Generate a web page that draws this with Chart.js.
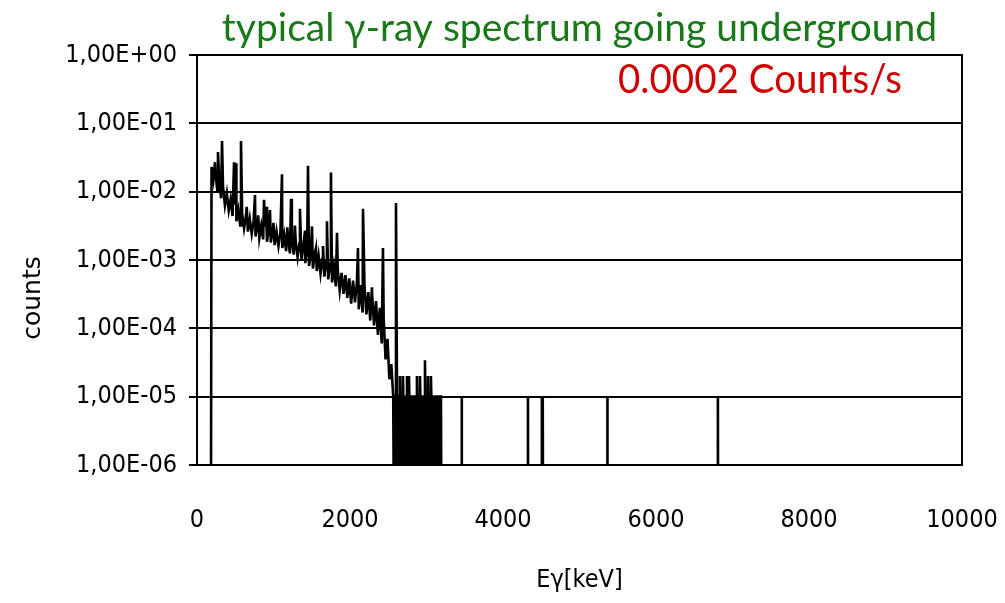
<!DOCTYPE html>
<html>
<head>
<meta charset="utf-8">
<script src="https://cdn.jsdelivr.net/npm/chart.js@4.4.0/dist/chart.umd.min.js"></script>
<style>
  html, body { margin: 0; padding: 0; background: #fff; }
  #wrap { width: 1005px; height: 603px; }
</style>
</head>
<body>
<div id="wrap"><canvas id="spectrum"></canvas></div>
<script>
// continuum (keV, counts)
const contEnergy = [182, 190, 215, 240, 265, 290, 315, 340, 365, 390, 415, 440, 465, 490, 515, 540, 565, 590, 615, 640, 665,
  690, 715, 740, 765, 790, 815, 840, 865, 890, 915, 940, 965, 990, 1015, 1040, 1065, 1090, 1115, 1140, 1165,
  1190, 1215, 1240, 1265, 1290, 1315, 1340, 1365, 1390, 1415, 1440, 1465, 1490, 1515, 1540, 1565, 1590, 1615,
  1640, 1665, 1690, 1715, 1740, 1765, 1790, 1815, 1840, 1865, 1890, 1915, 1940, 1965, 1990, 2015, 2040, 2065,
  2090, 2115, 2140, 2165, 2190, 2215, 2240, 2265, 2290, 2315, 2340, 2365, 2390, 2415, 2440, 2465, 2490, 2515,
  2540, 2565, 2575, 2590];
const contCounts = [0, 2.3e-2, 1.5e-2, 2.0e-2, 1.05e-2, 1.5e-2, 8e-3, 1.2e-2, 6.3e-3, 9.5e-3, 5.3e-3, 7.8e-3, 4.4e-3,
  6.5e-3, 3.7e-3, 5.4e-3, 3.2e-3, 4.8e-3, 2.9e-3, 4.4e-3, 2.6e-3, 4.0e-3, 2.4e-3, 3.7e-3, 2.2e-3, 3.4e-3, 2.1e-3,
  3.2e-3, 2.0e-3, 3.1e-3, 1.85e-3, 2.9e-3, 1.8e-3, 2.75e-3, 1.65e-3, 2.6e-3, 1.6e-3, 2.5e-3, 1.5e-3, 2.3e-3, 1.35e-3,
  2.1e-3, 1.25e-3, 2.0e-3, 1.2e-3, 1.9e-3, 1.1e-3, 1.75e-3, 1.0e-3, 1.6e-3, 9e-4, 1.45e-3, 8.2e-4, 1.35e-3, 7.5e-4,
  1.25e-3, 6.9e-4, 1.15e-3, 6.3e-4, 1.05e-3, 5.7e-4, 9.5e-4, 5.2e-4, 8.8e-4, 4.7e-4, 8e-4, 4.1e-4, 7.2e-4, 3.6e-4,
  6.5e-4, 3.2e-4, 6.0e-4, 2.8e-4, 5.4e-4, 2.3e-4, 5.0e-4, 2.4e-4, 4.6e-4, 1.9e-4, 4.3e-4, 1.7e-4, 4.0e-4, 1.6e-4,
  3.4e-4, 1.3e-4, 3.0e-4, 1.1e-4, 2.5e-4, 8e-5, 2.0e-4, 6e-5, 1.4e-4, 3.5e-5, 7e-5, 1.8e-5, 3e-5, 1e-5,
  0, 1e-5];

// gamma lines
const peakEnergy = [235, 274, 327, 484, 510, 575, 650, 758, 800, 876, 902, 954, 1000, 1111, 1180, 1229, 1280, 1346,
  1412, 1451, 1503, 1555, 1647, 1699, 1751, 1830, 2104, 2170, 2287, 2431, 2601];
const peakCounts = [2.7e-2, 3.8e-2, 5.5e-2, 2.7e-2, 2.6e-2, 5.5e-2, 6e-3, 8.9e-3, 4.5e-3, 7.6e-3, 6.0e-3, 5.4e-3,
  3.5e-3, 1.8e-2, 3.0e-3, 7.9e-3, 3.2e-3, 5.6e-3, 2.7e-3, 2.4e-2, 3.1e-3, 1.5e-3, 1.6e-3, 3.7e-3, 1.9e-2, 2.5e-3,
  1.5e-3, 5.6e-3, 4.0e-4, 1.5e-3, 6.8e-3];

// above 2.6 MeV: single/double counts
const tailEnergy = [2615, 2648, 2653, 2658, 2687, 2692, 2697, 2740, 2745, 2750, 2766, 2771, 2776, 2870, 2875, 2880,
  2910, 2915, 2920, 2975, 2980, 2985, 3014, 3019, 3024, 3053, 3058, 3063, 3189, 3195];
const tailCounts = [1e-5, 1e-5, 2e-5, 1e-5, 1e-5, 2e-5, 1e-5, 1e-5, 2e-5, 1e-5, 1e-5, 2e-5, 1e-5, 1e-5, 2e-5, 1e-5,
  1e-5, 2e-5, 1e-5, 1e-5, 3.4e-5, 1e-5, 1e-5, 2e-5, 1e-5, 1e-5, 2e-5, 1e-5, 1e-5, 0];
const denseRange = [2595, 3189];
const denseLevel = 1e-5;
const singleEnergy = [3460, 4326, 4508, 4521, 5364, 6809];
const singleCount = 1e-5;

const yTickValues = [1e-6, 1e-5, 1e-4, 1e-3, 1e-2, 1e-1, 1];
const yTickLabels = ['1,00E-06', '1,00E-05', '1,00E-04', '1,00E-03', '1,00E-02', '1,00E-01', '1,00E+00'];
const xTicks = [0, 2000, 4000, 6000, 8000, 10000];

const FLOOR = 1e-7; // empty channels, below the axis

let pts = [];
contEnergy.forEach((e, i) => pts.push({ x: e, y: contCounts[i] }));
peakEnergy.forEach((e, i) => pts.push({ x: e, y: peakCounts[i] }));
tailEnergy.forEach((e, i) => pts.push({ x: e, y: tailCounts[i] }));
singleEnergy.forEach(e => {
  pts.push({ x: e - 3, y: 0 }, { x: e, y: singleCount }, { x: e + 3, y: 0 });
});
pts.sort((a, b) => a.x - b.x);
pts = pts.map(p => ({ x: p.x, y: p.y > 0 ? p.y : FLOOR }));

// closed outline of the densely populated channels
const densePts = [
  { x: denseRange[0], y: FLOOR }, { x: denseRange[0], y: denseLevel },
  { x: denseRange[1], y: denseLevel }, { x: denseRange[1], y: FLOOR }
];

const narrow = "'Liberation Sans Narrow', 'DejaVu Sans Condensed', sans-serif";

const frameAndText = {
  id: 'frameAndText',
  afterDraw(chart) {
    const { ctx, chartArea: a } = chart;
    ctx.save();
    ctx.strokeStyle = '#000';
    ctx.lineWidth = 2;
    ctx.strokeRect(a.left, a.top, a.right - a.left, a.bottom - a.top);
    ctx.fillStyle = '#d00000';
    ctx.font = "40px Lato, 'Open Sans', sans-serif";
    ctx.textAlign = 'center';
    ctx.textBaseline = 'alphabetic';
    ctx.fillText('0.0002 Counts/s', 760, 93, 284);
    ctx.fillStyle = '#000';
    ctx.font = "25px 'DejaVu Sans', sans-serif";
    ctx.translate(33, 298);
    ctx.rotate(-Math.PI / 2);
    ctx.textBaseline = 'middle';
    ctx.fillText('counts', 0, 0);
    ctx.restore();
  }
};

new Chart(document.getElementById('spectrum'), {
  type: 'line',
  data: {
    datasets: [{
      data: pts,
      borderColor: '#000',
      borderWidth: 2.6,
      pointRadius: 0,
      tension: 0,
      fill: false
    }, {
      data: densePts,
      borderColor: '#000',
      borderWidth: 1,
      backgroundColor: '#000',
      pointRadius: 0,
      tension: 0,
      fill: 'start'
    }]
  },
  options: {
    responsive: true,
    maintainAspectRatio: false,
    animation: false,
    layout: { padding: 0 },
    plugins: {
      legend: { display: false },
      tooltip: { enabled: false },
      title: {
        display: true,
        fullSize: false,
        text: 'typical \u03B3-ray spectrum going underground',
        color: '#177a17',
        font: { family: "Lato, 'Open Sans', sans-serif", size: 39, weight: 'normal', lineHeight: 1.2 },
        padding: { top: 5, bottom: 3.2 }
      }
    },
    scales: {
      x: {
        type: 'linear',
        min: 0,
        max: 10000,
        afterBuildTicks(scale) {
          scale.ticks = xTicks.map(v => ({ value: v }));
        },
        ticks: {
          color: '#000',
          font: { family: narrow, size: 25 },
          padding: 40,
          maxRotation: 0,
          callback: v => String(v)
        },
        grid: { drawOnChartArea: false, drawTicks: false },
        border: { color: '#000', width: 2 },
        title: {
          display: true,
          text: 'E\u03B3[keV]',
          color: '#000',
          font: { family: narrow, size: 25 },
          padding: { top: 0, bottom: 8 }
        },
        afterFit(scale) {
          scale.height = 138;
          scale.paddingRight = 43;
        }
      },
      y: {
        type: 'logarithmic',
        min: 1e-6,
        max: 1,
        afterBuildTicks(scale) {
          scale.ticks = yTickValues.map(v => ({ value: v, major: true }));
        },
        ticks: {
          autoSkip: false,
          color: '#000',
          font: { family: narrow, size: 25 },
          padding: 12,
          callback: (v, i) => yTickLabels[i]
        },
        grid: { color: '#000', lineWidth: 2, tickLength: 8 },
        border: { color: '#000', width: 2 },
        afterFit(scale) { scale.width = 197; }
      }
    }
  },
  plugins: [frameAndText]
});
</script>
</body>
</html>
